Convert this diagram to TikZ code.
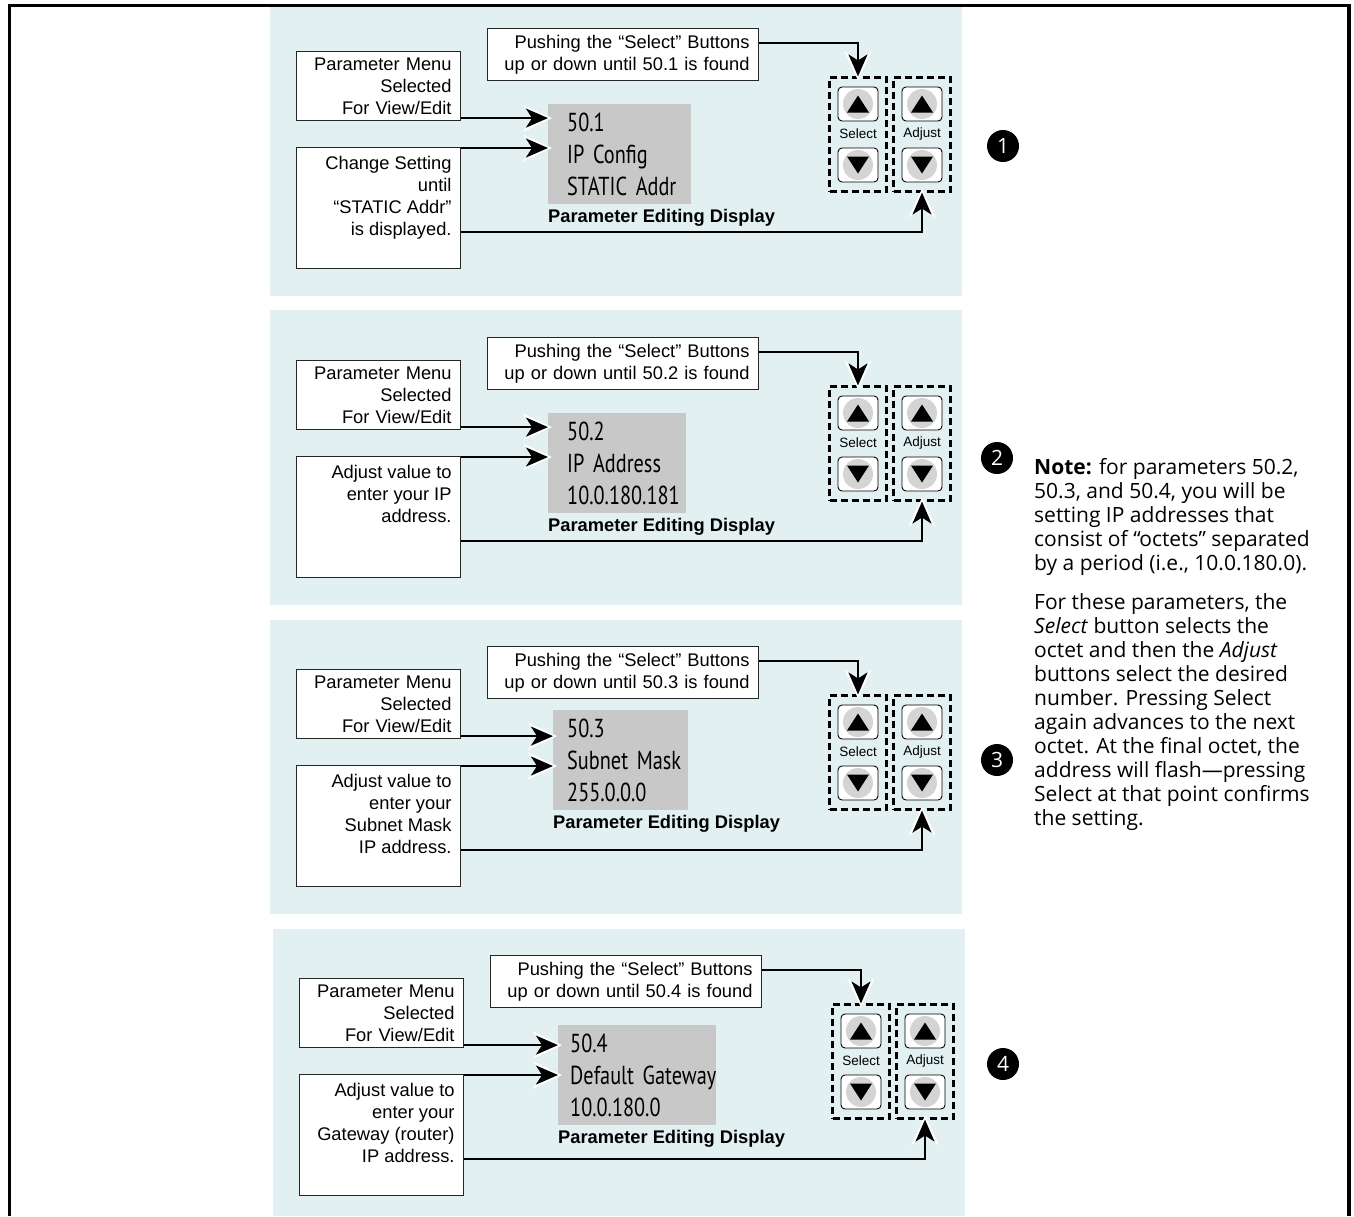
\documentclass[tikz,border=0pt]{standalone}
\usepackage{fontspec}
\setmainfont{Liberation Sans}
\newfontfamily\lcdfont[FakeStretch=0.78]{PT Sans}
\newfontfamily\notefont{Open Sans}
\usetikzlibrary{arrows.meta,positioning,fit}

\definecolor{panelbg}{RGB}{226,240,241}
\definecolor{lcdgray}{RGB}{200,200,200}
\definecolor{knobgray}{RGB}{212,212,212}

\tikzset{
	txtbox/.style={draw=black!85, line width=1.1pt, fill=white, anchor=north west, inner xsep=9pt, font=\fontsize{18.3}{22}\selectfont},
	menubox/.style={txtbox, align=right, text width=146pt, minimum height=69pt},
	pushbox/.style={txtbox, align=right, text width=253pt, minimum height=52pt},
	chgbox/.style={txtbox, inner ysep=9pt},
	lcd/.style={fill=lcdgray, anchor=north west, minimum height=100pt, align=left, font=\lcdfont\fontsize{26}{32}\selectfont},
	caption/.style={inner sep=0pt, font=\bfseries\fontsize{18.3}{22}\selectfont},
	arr/.style={line width=2.4pt, -{Stealth[length=22pt, width=19pt, inset=6pt]},
		preaction={draw=white, line width=2.4pt, -{Stealth[length=29pt, width=27pt, inset=9pt]}, shorten >=-4pt}},
	btn/.style={draw, line width=0.9pt, rounded corners=4pt, fill=white, minimum width=40pt, minimum height=34pt, inner sep=0pt},
	btnup/.style={btn, path picture={
		\fill[knobgray] (path picture bounding box.center) circle[radius=15pt];
		\fill[black, sharp corners] ([yshift=8.5pt]path picture bounding box.center) -- ++(-11pt,-17pt) -- ++(22pt,0pt) -- cycle;}},
	btndown/.style={btn, path picture={
		\fill[knobgray] (path picture bounding box.center) circle[radius=15pt];
		\fill[black, sharp corners] ([yshift=-8.5pt]path picture bounding box.center) -- ++(-11pt,17pt) -- ++(22pt,0pt) -- cycle;}},
	btnlbl/.style={inner sep=0pt, font=\fontsize{13.5}{16}\selectfont},
	dashbox/.style={draw, dash pattern=on 7pt off 4pt, line width=2.2pt, inner xsep=8pt, inner ysep=9pt},
	stepnum/.style={circle, fill=black, text=white, minimum size=32pt, inner sep=0pt, font=\notefont\fontsize{21}{24}\selectfont},
	note/.style={anchor=north west, inner sep=0pt, align=left, font=\notefont\fontsize{21}{24}\selectfont},
}

% #1 step, #2 parameter, #3 #4 display lines, #5 box text, #6 #7 display corner, #8 display size
\newcommand{\stepanel}[8]{%
	\node[menubox] (menu#1) at (296,51) {Parameter Menu\\Selected\\For View/Edit};
	\node[chgbox] (chg#1) at (296,147) {\parbox[t][103pt][t]{146pt}{\raggedleft #5}};
	\node[pushbox] (push#1) at (487,28) {Pushing the “Select” Buttons\\up or down until #2 is found};
	\node[lcd, #8] (disp#1) at (#6,#7) {\mbox{#2}\\\mbox{#3}\\\mbox{#4}};
	\node[caption, below right=5pt and 0pt of disp#1.south west] (cap#1) {Parameter Editing Display};

	% buttons
	\node[btnup] (su#1) at (858,104) {};
	\node[btndown] (sd#1) at (858,165) {};
	\node[btnlbl] (sl#1) at (858,134) {Select};
	\node[btnup] (au#1) at (922,104) {};
	\node[btndown] (ad#1) at (922,165) {};
	\node[btnlbl] (al#1) at (922,134) {Adjust};
	\node[dashbox, fit=(su#1)(sd#1)] (sel#1) {};
	\node[dashbox, fit=(au#1)(ad#1)] (adj#1) {};

	% arrows
	\draw[arr] (menu#1.south east) ++(0,-3) coordinate (ma#1) -- (ma#1 -| disp#1.west);
	\draw[arr] (chg#1.north east) ++(0,1) coordinate (cb#1) -- (cb#1 -| disp#1.west);
	\draw[arr] (push#1.north east) ++(0,15) coordinate (pa#1) -| (sel#1.north);
	\draw[arr] (chg#1.north east) ++(0,85) coordinate (cc#1) -| (adj#1.south);
}

\begin{document}
\begin{tikzpicture}[x=1pt, y=-1pt]
	\useasboundingbox (0,0) rectangle (1354,1216);

	% panels
	\fill[panelbg] (270,7) rectangle (962,296);
	\fill[panelbg] (270,310) rectangle (962,605);
	\fill[panelbg] (270,620) rectangle (962,914);
	\fill[panelbg] (273,929) rectangle (965,1216);

	\stepanel{1}{50.1}{IP Config}{STATIC Addr}{Change Setting\\until\\“STATIC Addr”\\is displayed.}{548}{104}{text width=105pt, inner xsep=19pt}
	\begin{scope}[shift={(0,309)}]
		\stepanel{2}{50.2}{IP Address}{10.0.180.181}{Adjust value to\\enter your IP\\address.}{548}{104}{text width=100pt, inner xsep=19pt}
	\end{scope}
	\begin{scope}[shift={(0,618)}]
		\stepanel{3}{50.3}{Subnet Mask}{255.0.0.0}{Adjust value to\\enter your\\Subnet Mask\\IP address.}{553}{92}{text width=107pt, inner xsep=14pt}
	\end{scope}
	\begin{scope}[shift={(3,927)}]
		\stepanel{4}{50.4}{Default Gateway}{10.0.180.0}{Adjust value to\\enter your\\Gateway (router)\\IP address.}{555}{98}{text width=134pt, inner xsep=12pt}
	\end{scope}

	% step numbers
	\node[stepnum] (n1) at (1003,146) {1};
	\node[stepnum] (n2) at (997,458) {2};
	\node[stepnum] (n3) at (997,760) {3};
	\node[stepnum] (n4) at (1003,1064) {4};

	\node[note] (note) at (1034,458) {\textbf{Note:} for parameters 50.2,\\
		50.3, and 50.4, you will be\\
		setting IP addresses that\\
		consist of “octets” separated\\
		by a period (i.e., 10.0.180.0).\\[15pt]
		For these parameters, the\\
		\textit{Select} button selects the\\
		octet and then the \textit{Adjust}\\
		buttons select the desired\\
		number. Pressing Select\\
		again advances to the next\\
		octet. At the final octet, the\\
		address will flash—pressing\\
		Select at that point confirms\\
		the setting.};

	% frame
	\draw[line width=3.5pt] (9.5,1216) |- (1349,5.5) -- (1349,1216);
\end{tikzpicture}
\end{document}
